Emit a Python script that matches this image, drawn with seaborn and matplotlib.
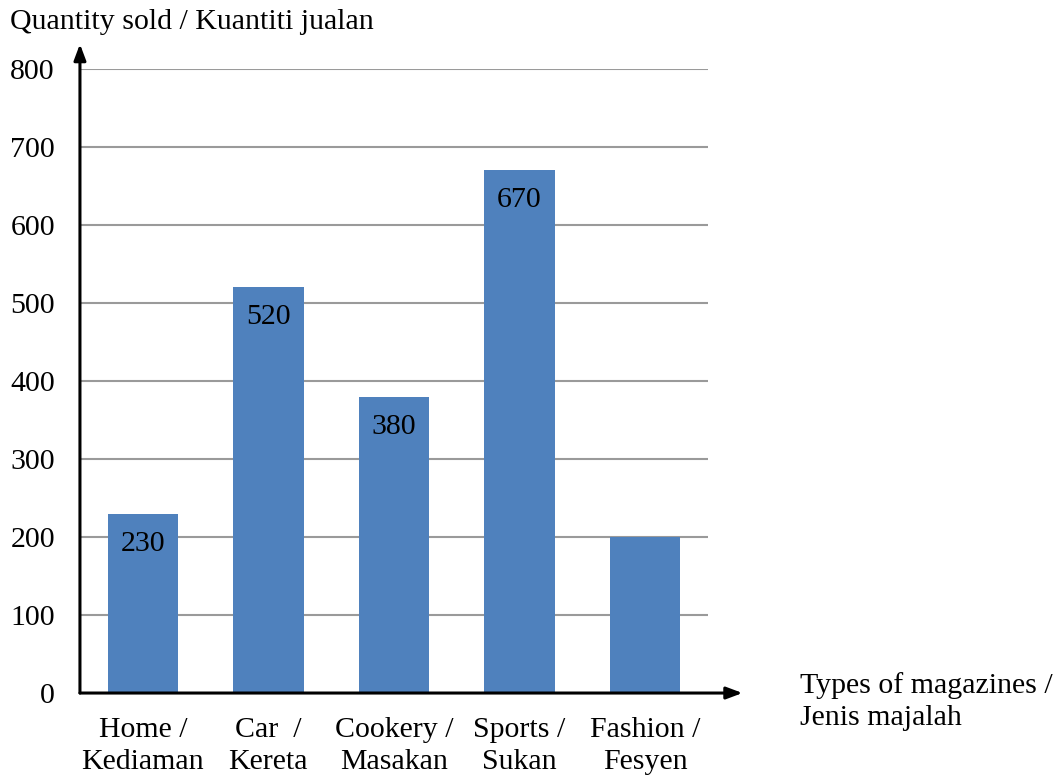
import matplotlib
matplotlib.use("Agg")
import matplotlib.pyplot as plt
import seaborn as sns
import pandas as pd

categories = ["Home /\nKediaman", "Car  /\nKereta", "Cookery /\nMasakan", "Sports /\nSukan", "Fashion /\nFesyen"]
values = [230, 520, 380, 670, 200]
shown_labels = ["230", "520", "380", "670", ""]
y_ticks = [0, 100, 200, 300, 400, 500, 600, 700, 800]

sns.set_theme(style="white")
plt.rcParams['font.family'] = ['Liberation Serif', 'DejaVu Serif']
plt.rcParams['text.color'] = 'black'
plt.rcParams['xtick.color'] = 'black'
plt.rcParams['ytick.color'] = 'black'

FS = 21.5

df = pd.DataFrame({"cat": categories, "val": values})

fig = plt.figure(figsize=(10.59, 7.80), dpi=100)
ax = fig.add_axes([0.0755, 0.1115, 0.593, 0.800])

sns.barplot(data=df, x="cat", y="val", color="#4F81BD", saturation=1, width=0.56,
            linewidth=0, ax=ax, zorder=3)

ax.set_xlim(-0.5, 4.5)
ax.set_ylim(0, 800)
ax.set_yticks(y_ticks)
ax.set_yticklabels([str(t) for t in y_ticks], fontsize=FS, color="black")
ax.tick_params(axis='x', labelsize=FS, pad=17, length=0, labelcolor="black")
ax.tick_params(axis='y', pad=18, length=0, labelcolor="black")
for lab in ax.get_xticklabels():
    lab.set_linespacing(1.3)
ax.set_xlabel("")
ax.set_ylabel("")
for t in y_ticks[1:]:
    ax.axhline(t, color="#9a9a9a", lw=1.5, zorder=1)
for s in ax.spines.values():
    s.set_visible(False)

for i, (v, lab) in enumerate(zip(values, shown_labels)):
    if lab:
        ax.annotate(lab, (i, v), xytext=(0, -30), textcoords="offset pixels",
                    ha="center", va="center", fontsize=FS, color="black", zorder=4)

# axes arrows
ax.annotate("", xy=(0, 1.04), xytext=(0, 0), xycoords="axes fraction",
            arrowprops=dict(arrowstyle="-|>,head_length=0.8,head_width=0.3", color="black", lw=2.2, shrinkA=0, shrinkB=0))
ax.annotate("", xy=(1.055, 0), xytext=(0, 0), xycoords="axes fraction",
            arrowprops=dict(arrowstyle="-|>,head_length=0.8,head_width=0.3", color="black", lw=2.2, shrinkA=0, shrinkB=0))

fig.text(10/1059, 1 - 22/780, "Quantity sold / Kuantiti jualan", fontsize=FS, ha="left", va="center", color="black")
fig.text(800/1059, 1 - 702/780, "Types of magazines /\nJenis majalah", fontsize=FS, ha="left", va="center",
         linespacing=1.3, color="black")

fig.savefig("out.png", dpi=100)
